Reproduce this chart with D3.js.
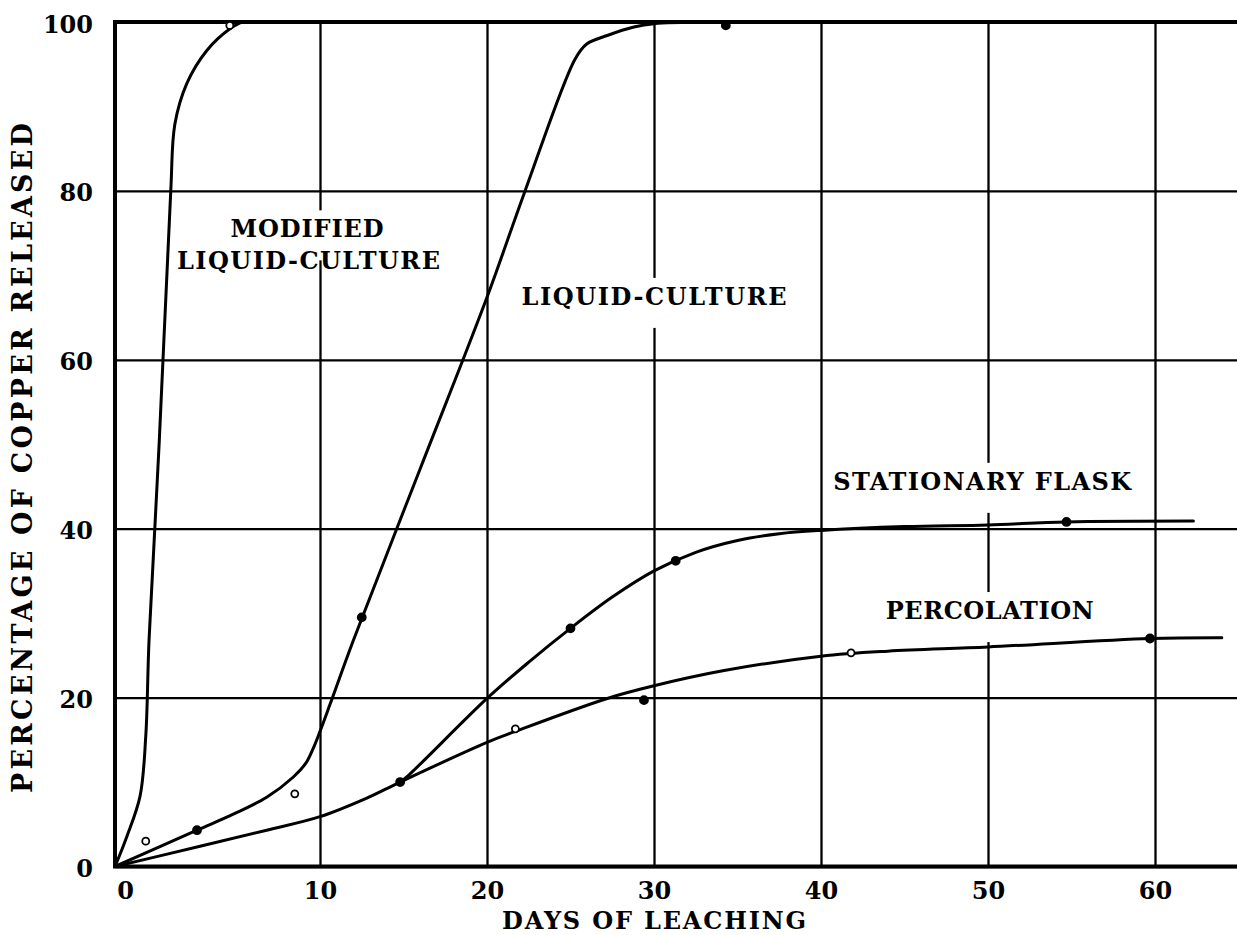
<!DOCTYPE html>
<html>
<head>
<meta charset="utf-8">
<script src="https://cdn.jsdelivr.net/npm/d3@7"></script>
<style>
  html, body { margin: 0; padding: 0; background: #fff; }
  svg { display: block; }
</style>
</head>
<body>
<svg id="chart" width="1237" height="935"></svg>
<script>
// ---- Axis ticks ----
const dayTicks = [0, 10, 20, 30, 40, 50, 60];
const pctTicks = [0, 20, 40, 60, 80, 100];

// ---- Fitted curves: days of leaching vs. percentage of copper released ----
const modifiedDays = [0, 0.57, 1.22, 1.5, 1.66, 2.16, 2.72, 2.92, 3.5, 4.47, 5.61, 6.24, 7.5];
const modifiedPct  = [0, 3.5, 8.3, 15.4, 26.8, 50.4, 80, 87.9, 92.7, 96.6, 99.2, 100, 100];

const liquidDays = [0, 4.0, 5.77, 7.4, 8.7, 9.3, 9.67, 10, 10.6, 12.0, 16.0, 20.0, 22.28, 25.27, 25.97, 27.2, 28.8, 30, 34, 36];
const liquidPct  = [0, 4.3, 6.2, 8.2, 10.6, 12.2, 14.0, 16.0, 19.2, 26.8, 47.1, 67.4, 80, 95.6, 97.4, 98.4, 99.4, 99.8, 100, 100];

const stationaryDays = [14.8, 15.3, 20, 22.5, 25.0, 27.5, 30, 32.5, 35, 37.5, 40, 45, 50, 54.7, 62.3];
const stationaryPct  = [10.0, 10.8, 19.9, 24.2, 28.2, 31.9, 35.0, 37.2, 38.6, 39.4, 39.8, 40.25, 40.45, 40.8, 40.9];

const percolationDays = [0, 4.15, 7.4, 10, 12.8, 14.8, 20, 21.7, 27.2, 30, 34.2, 40, 44, 50, 59.7, 64.0];
const percolationPct  = [0, 2.4, 4.3, 5.9, 8.1, 10.0, 14.7, 16.0, 19.9, 21.4, 23.2, 24.9, 25.5, 26.0, 27.0, 27.1];

// ---- Observed points ----
const pointDays   = [1.5, 5.6, 4.0, 8.77, 12.5, 34.3, 14.8, 25.0, 31.3, 54.7, 21.7, 29.4, 41.8, 59.7];
const pointPct    = [3.0, 99.6, 4.3, 8.6, 29.5, 99.6, 10.0, 28.2, 36.2, 40.8, 16.3, 19.7, 25.3, 27.0];
const pointFilled = [false, false, true, false, true, true, true, true, true, true, false, true, false, true];

// ---- Curve labels ----
const labelText  = ["MODIFIED", "LIQUID-CULTURE", "LIQUID-CULTURE", "STATIONARY FLASK", "PERCOLATION"];
const labelDay   = [9.37, 9.44, 30.0, 49.65, 50.1];
const labelPct   = [74.5, 70.8, 66.5, 44.6, 29.3];
const labelClear = [true, false, true, true, true];

// typewritten line lengths (px)
const labelWidth = [153, 263, 265, 298, 208];

const svg = d3.select("#chart");

// Day axis: first decade is drawn wider than the rest
const x = d3.scaleLinear().domain([0, 10, 65]).range([115, 320, 1238.5]);
const y = d3.scaleLinear().domain([0, 100]).range([866.5, 22]);

const ink = "#000";
const serif = "'DejaVu Serif', serif";

// ---- Grid (via axes) ----
const gx = svg.append("g")
  .attr("transform", `translate(0,${y(0)})`)
  .call(d3.axisBottom(x).tickValues(dayTicks).tickFormat(d3.format("d"))
    .tickSize(-(y(0) - y(100))));
gx.select(".domain").remove();
gx.selectAll(".tick line").attr("stroke", ink).attr("stroke-width", 2.3);
gx.selectAll(".tick text")
  .attr("y", 32).attr("dy", 0)
  .attr("dx", d => d === 0 ? 10 : 0)
  .attr("fill", ink)
  .style("font-family", serif).style("font-weight", "bold").style("font-size", "24px");

const gy = svg.append("g")
  .attr("transform", `translate(${x(0)},0)`)
  .call(d3.axisLeft(y).tickValues(pctTicks).tickFormat(d3.format("d"))
    .tickSize(-(x.range()[2] - x(0))));
gy.select(".domain").remove();
gy.selectAll(".tick line").attr("stroke", ink).attr("stroke-width", 2.3);
gy.selectAll(".tick text")
  .attr("x", -22).attr("dy", 0).attr("y", 10)
  .attr("fill", ink)
  .style("font-family", serif).style("font-weight", "bold").style("font-size", "24px");

// ---- Curve labels, with white clearing behind them so grid lines break ----
const labels = svg.append("g");
labelText.forEach((t, i) => {
  const g = labels.append("g");
  const tx = x(labelDay[i]), ty = y(labelPct[i]), w = labelWidth[i];
  if (labelClear[i]) {
    g.append("rect")
      .attr("x", tx - w / 2 - 6).attr("width", w + 12)
      .attr("y", ty - 27).attr("height", 50)
      .attr("fill", "#fff");
  }
  g.append("text")
    .attr("x", tx - w / 2).attr("y", ty)
    .attr("textLength", w).attr("lengthAdjust", "spacing")
    .attr("fill", ink)
    .style("font-family", serif).style("font-weight", "bold")
    .style("font-size", "24px")
    .text(t);
});

// ---- Frame ----
const x0 = x(0), xr = 1240, yt = y(100), yb = y(0);
svg.append("path")
  .attr("d", `M${xr},${yt}H${x0}V${yb}H${xr}`)
  .attr("fill", "none").attr("stroke", ink).attr("stroke-width", 4);

// ---- Curves ----
svg.append("clipPath").attr("id", "plotClip")
  .append("rect").attr("x", x0).attr("y", yt).attr("width", xr - x0).attr("height", yb - yt);

const line = d3.line().x(d => x(d[0])).y(d => y(d[1])).curve(d3.curveCatmullRom.alpha(0.5));
const series = [
  [modifiedDays, modifiedPct],
  [liquidDays, liquidPct],
  [stationaryDays, stationaryPct],
  [percolationDays, percolationPct]
];
const curves = svg.append("g").attr("clip-path", "url(#plotClip)");
series.forEach(([ds, ps]) => {
  curves.append("path")
    .datum(ds.map((d, i) => [d, ps[i]]))
    .attr("d", line)
    .attr("fill", "none")
    .attr("stroke", ink)
    .attr("stroke-width", 3)
    .attr("stroke-linejoin", "round")
    .attr("stroke-linecap", "round");
});

// ---- Observed points ----
svg.append("g").selectAll("circle")
  .data(pointDays.map((d, i) => ({ d, p: pointPct[i], f: pointFilled[i] })))
  .join("circle")
  .attr("cx", o => x(o.d))
  .attr("cy", o => y(o.p))
  .attr("r", o => o.f ? 4 : 3.5)
  .attr("fill", o => o.f ? ink : "#fff")
  .attr("stroke", ink)
  .attr("stroke-width", 1.8);

// ---- Axis titles ----
svg.append("text")
  .attr("x", 502).attr("y", 929)
  .attr("textLength", 304).attr("lengthAdjust", "spacing")
  .attr("fill", ink)
  .style("font-family", serif).style("font-weight", "bold")
  .style("font-size", "24px")
  .text("DAYS OF LEACHING");

svg.append("text")
  .attr("transform", "translate(32,793) rotate(-90)")
  .attr("textLength", 670).attr("lengthAdjust", "spacing")
  .attr("fill", ink)
  .style("font-family", serif).style("font-weight", "bold")
  .style("font-size", "27px")
  .text("PERCENTAGE OF COPPER RELEASED");
</script>
</body>
</html>
